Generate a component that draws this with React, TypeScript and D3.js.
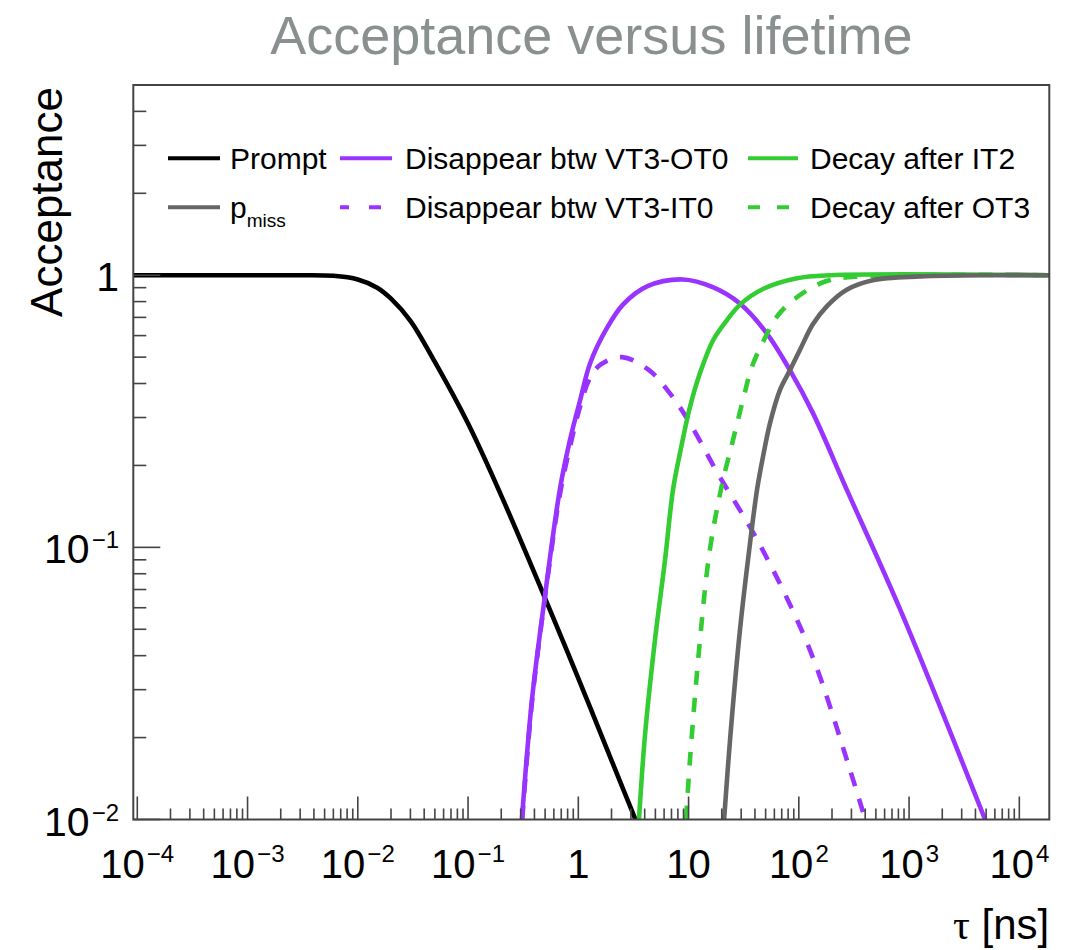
import React from "react";
import * as d3 from "d3";

// ---------- data ----------
const tauPrompt = [9.2e-5, 1e-3, 3e-3, 6e-3, 1e-2, 1.5e-2, 2e-2, 3e-2, 5e-2, 0.1, 0.2, 0.5, 1, 2, 3.3];
const accPrompt = [1, 1, 1, 0.995, 0.965, 0.9, 0.82, 0.68, 0.48, 0.285, 0.155, 0.065, 0.033, 0.0165, 0.01];

const tauVT3OT0 = [0.308, 0.38, 0.5, 0.68, 0.84, 1.04, 1.28, 1.82, 2.54, 4.2, 8.9, 16.6, 29, 51, 83, 134, 272, 826, 4890];
const accVT3OT0 = [0.01, 0.0276, 0.067, 0.163, 0.248, 0.348, 0.475, 0.64, 0.78, 0.91, 0.965, 0.904, 0.789, 0.613, 0.448, 0.312, 0.163, 0.0594, 0.01];

const tauVT3IT0 = [0.31, 0.38, 0.5, 0.68, 0.84, 1.04, 1.28, 1.6, 2.49, 4.38, 6.64, 9.29, 13, 17.7, 44.5, 126, 290, 400];
const accVT3IT0 = [0.01, 0.027, 0.066, 0.156, 0.234, 0.33, 0.42, 0.47, 0.5, 0.448, 0.372, 0.306, 0.242, 0.192, 0.102, 0.042, 0.0153, 0.01];

const tauIT2 = [3.55, 4.03, 4.96, 6.12, 7.23, 8.36, 10.3, 12.7, 16.7, 22.3, 29.3, 47.3, 96.3, 192, 18700];
const accIT2 = [0.01, 0.0205, 0.0458, 0.09, 0.163, 0.222, 0.328, 0.437, 0.577, 0.684, 0.78, 0.89, 0.975, 1, 1];

const tauOT3 = [9.5, 10.3, 12.7, 15.6, 20.1, 25.3, 31.8, 37.5, 48.2, 64.7, 102, 176, 357, 18700];
const accOT3 = [0.01, 0.0166, 0.0458, 0.098, 0.17, 0.248, 0.36, 0.46, 0.577, 0.713, 0.845, 0.95, 0.99, 1];

const tauPmiss = [21, 23.8, 29.3, 34.6, 41.8, 47.3, 54.8, 67.5, 83.2, 102, 134, 180, 272, 469, 1260, 6650, 18700];
const accPmiss = [0.01, 0.0197, 0.05, 0.09, 0.163, 0.215, 0.286, 0.379, 0.448, 0.53, 0.66, 0.77, 0.885, 0.959, 0.99, 1, 1];

const xMajor = [1e-4, 1e-3, 1e-2, 1e-1, 1, 10, 100, 1e3, 1e4];
const xMajorBase = ["10", "10", "10", "10", "1", "10", "10", "10", "10"];
const xMajorExp = ["−4", "−3", "−2", "−1", "", "", "2", "3", "4"];
const yMajor = [0.01, 0.1, 1];
const yMajorBase = ["10", "10", "1"];
const yMajorExp = ["−2", "−1", ""];
const minorMult = [2, 3, 4, 5, 6, 7, 8, 9];

const xDomain = [9.2e-5, 1.87e4];
const yDomain = [0.01, 5];

const PURPLE = "#9933ff";
const GREEN = "#33cc33";
const GRAY = "#666666";

const series = [
  { name: "Prompt", tau: tauPrompt, acc: accPrompt, color: "#000000", dash: null },
  { name: "VT3-OT0", tau: tauVT3OT0, acc: accVT3OT0, color: PURPLE, dash: null },
  { name: "VT3-IT0", tau: tauVT3IT0, acc: accVT3IT0, color: PURPLE, dash: "14 13" },
  { name: "IT2", tau: tauIT2, acc: accIT2, color: GREEN, dash: null },
  { name: "OT3", tau: tauOT3, acc: accOT3, color: GREEN, dash: "14 13" },
  { name: "pmiss", tau: tauPmiss, acc: accPmiss, color: GRAY, dash: null },
];

export default function App() {
  const L = 133.3, R = 1049.3, T = 85, B = 819.5;
  const x = d3.scaleLog().domain(xDomain).range([L, R]);
  const y = d3.scaleLog().domain(yDomain).range([B, T]);

  const line = d3
    .line<[number, number]>()
    .x((d) => x(d[0]))
    .y((d) => y(d[1]))
    .curve(d3.curveCatmullRom.alpha(0.5));

  const xMinor: number[] = [];
  for (let e = -5; e <= 4; e++) {
    for (const m of minorMult) {
      const v = m * Math.pow(10, e);
      if (v > xDomain[0] && v < xDomain[1]) xMinor.push(v);
    }
  }
  const yMinor: number[] = [];
  for (let e = -2; e <= 0; e++) {
    for (const m of minorMult) {
      const v = m * Math.pow(10, e);
      if (v > yDomain[0] && v < yDomain[1]) yMinor.push(v);
    }
  }

  const axisColor = "#444";
  const font = "'Liberation Sans', Arial, Helvetica, sans-serif";

  const legendRows = [158.3, 207.3];

  return (
    <svg
      width={1072}
      height={950}
      style={{ position: "absolute", left: 0, top: 0, background: "#fff" }}
      fontFamily={font}
    >
      <defs>
        <clipPath id="plotclip">
          <rect x={L} y={T} width={R - L} height={B - T} />
        </clipPath>
      </defs>
      <rect x={0} y={0} width={1072} height={950} fill="#fff" />

      {/* title */}
      <text x={(L + R) / 2} y={54} textAnchor="middle" fontSize={54} fill="#8a8f8f">
        Acceptance versus lifetime
      </text>

      {/* curves */}
      <g clipPath="url(#plotclip)">
        {series.map((s) => (
          <path
            key={s.name}
            d={line(s.tau.map((t, i) => [t, s.acc[i]] as [number, number])) || ""}
            fill="none"
            stroke={s.color}
            strokeWidth={4.6}
            strokeDasharray={s.dash || undefined}
            strokeLinejoin="round"
          />
        ))}
      </g>

      {/* frame */}
      <rect x={L} y={T} width={R - L} height={B - T} fill="none" stroke={axisColor} strokeWidth={2} />

      {/* x ticks */}
      {xMajor.map((v) => (
        <line key={"xM" + v} x1={x(v)} x2={x(v)} y1={B} y2={B - 23} stroke={axisColor} strokeWidth={1.6} />
      ))}
      {xMinor.map((v) => (
        <line key={"xm" + v} x1={x(v)} x2={x(v)} y1={B} y2={B - 11} stroke={axisColor} strokeWidth={1.6} />
      ))}
      {/* y ticks */}
      {yMajor.map((v) => (
        <line key={"yM" + v} x1={L} x2={L + 27} y1={y(v)} y2={y(v)} stroke={axisColor} strokeWidth={1.6} />
      ))}
      {yMinor.map((v) => (
        <line key={"ym" + v} x1={L} x2={L + 13} y1={y(v)} y2={y(v)} stroke={axisColor} strokeWidth={1.6} />
      ))}

      {/* x labels */}
      {xMajor.map((v, i) => (
        <text key={"xl" + v} x={x(v)} y={878} textAnchor="middle" fontSize={40} fill="#000">
          {xMajorBase[i]}
          {xMajorExp[i] ? (
            <tspan dy={-16} dx={2} fontSize={24}>
              {xMajorExp[i]}
            </tspan>
          ) : null}
        </text>
      ))}
      {/* y labels */}
      {yMajor.map((v, i) => (
        <text key={"yl" + v} x={119} y={y(v) + 16} textAnchor="end" fontSize={41} fill="#000">
          {yMajorBase[i]}
          {yMajorExp[i] ? (
            <tspan dy={-15} dx={2} fontSize={24}>
              {yMajorExp[i]}
            </tspan>
          ) : null}
        </text>
      ))}

      {/* axis titles */}
      <text x={R} y={939} textAnchor="end" fontSize={42} fill="#000">
        <tspan fontFamily="'Liberation Serif', 'Times New Roman', serif">τ</tspan> [ns]
      </text>
      <text
        transform={`translate(62, ${T + 2}) rotate(-90)`}
        textAnchor="end"
        fontSize={44}
        fill="#000"
      >
        Acceptance
      </text>

      {/* legend */}
      <g fontSize={30} fill="#000">
        <line x1={168} x2={220} y1={legendRows[0]} y2={legendRows[0]} stroke="#000" strokeWidth={4} />
        <text x={230} y={legendRows[0] + 11}>Prompt</text>
        <line x1={340} x2={392} y1={legendRows[0]} y2={legendRows[0]} stroke={PURPLE} strokeWidth={4} />
        <text x={405} y={legendRows[0] + 11}>Disappear btw VT3-OT0</text>
        <line x1={748} x2={798} y1={legendRows[0]} y2={legendRows[0]} stroke={GREEN} strokeWidth={4} />
        <text x={810} y={legendRows[0] + 11}>Decay after IT2</text>

        <line x1={168} x2={220} y1={legendRows[1]} y2={legendRows[1]} stroke={GRAY} strokeWidth={4} />
        <text x={230} y={legendRows[1] + 11}>
          p<tspan fontSize={19} dy={9}>miss</tspan>
        </text>
        <line x1={340} x2={392} y1={legendRows[1]} y2={legendRows[1]} stroke={PURPLE} strokeWidth={4} strokeDasharray="9 20 12 30" />
        <text x={405} y={legendRows[1] + 11}>Disappear btw VT3-IT0</text>
        <line x1={748} x2={798} y1={legendRows[1]} y2={legendRows[1]} stroke={GREEN} strokeWidth={4} strokeDasharray="12 17 12 30" />
        <text x={810} y={legendRows[1] + 11}>Decay after OT3</text>
      </g>
    </svg>
  );
}
